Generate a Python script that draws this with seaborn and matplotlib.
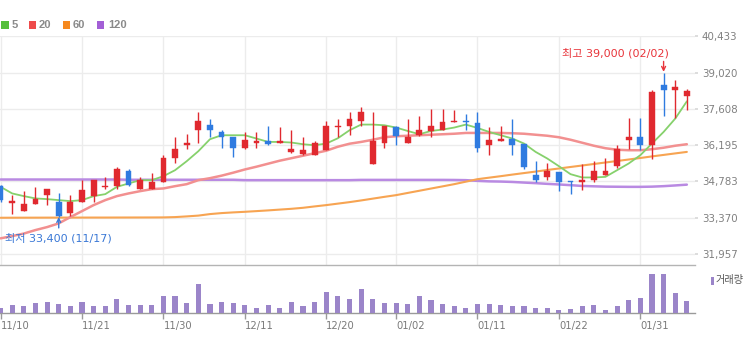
import numpy as np
import pandas as pd
import matplotlib
matplotlib.use("Agg")
import matplotlib.pyplot as plt
import seaborn as sns
from matplotlib.patches import Rectangle

# ---------------- data ----------------
opens = [34600, 33950, 33650, 33900, 34250, 34000, 33550, 34000, 34200, 34550,
         34600, 35200, 34500, 34500, 34750, 35700, 36200, 36800, 37000, 36700,
         36500, 36100, 36300, 36350, 36300, 35950, 35850, 35800, 36000, 36900,
         36950, 37150, 35450, 36300, 36900, 36300, 36600, 36750, 36800, 37100,
         37150, 37050, 36200, 36350, 36450, 36250, 35050, 34950, 35150, 34800,
         34750, 34850, 35050, 35400, 36400, 36500, 36200, 38550, 38350, 38100]
highs = [34650, 34250, 34400, 34550, 34500, 34350, 34250, 34850, 34850, 34950,
         35350, 35250, 34950, 35100, 35800, 36500, 36650, 37500, 37200, 36800,
         36500, 36700, 36700, 36950, 36900, 36800, 36500, 36350, 37150, 37200,
         37500, 37700, 37500, 36950, 36950, 37200, 37350, 37600, 37600, 37550,
         37400, 37500, 36900, 36950, 37200, 36250, 35600, 35500, 35150, 34800,
         35450, 35600, 35700, 36200, 37250, 37250, 38350, 39000, 38750, 38400]
lows = [34000, 33500, 33650, 33900, 33850, 33400, 33450, 34000, 34000, 34500,
        34500, 34600, 34500, 34500, 34750, 35500, 36050, 36300, 36500, 36100,
        35750, 36050, 36100, 36200, 36300, 35900, 35800, 35800, 36000, 36500,
        36600, 36950, 35450, 36100, 36200, 36300, 36550, 36500, 36800, 37100,
        36800, 35950, 35800, 36350, 35800, 35250, 34750, 34850, 34400, 34300,
        34450, 34750, 35050, 35300, 36050, 36000, 35650, 37350, 37250, 37550]
closes = [34050, 34000, 33900, 34100, 34500, 33450, 34000, 34450, 34850, 34600,
          35250, 34650, 34850, 34750, 35700, 36050, 36300, 37150, 36800, 36500,
          36100, 36400, 36350, 36250, 36350, 36050, 36000, 36300, 36950, 36950,
          37200, 37500, 36350, 36950, 36550, 36500, 36800, 36950, 37100, 37150,
          37100, 36100, 36400, 36450, 36200, 35350, 34850, 35200, 34750, 34750,
          34850, 35200, 35200, 36050, 36500, 36200, 38250, 38350, 38450, 38300]
volumes = [15900, 23100, 20100, 30000, 33000, 26100, 20100, 33000, 20100, 20100,
           42900, 23100, 23100, 23100, 50100, 50100, 30000, 86100, 26100, 33000,
           30000, 23100, 15900, 23100, 15900, 33000, 20100, 33000, 63000, 50100,
           42900, 72900, 42900, 30000, 30000, 26100, 50100, 39900, 26100, 20100,
           15900, 26100, 26100, 23100, 20100, 20100, 15900, 15900, 9900, 12900,
           20100, 23100, 9900, 20100, 39900, 45900, 117900, 116100, 60000, 36000]
ma5 = [34574, 34317, 34213, 34123, 34096, 34057, 34018, 34057, 34213, 34290,
       34574, 34706, 34835, 34835, 34990, 35223, 35573, 35962, 36429, 36584,
       36584, 36584, 36456, 36324, 36324, 36300, 36234, 36195, 36261, 36468,
       36779, 37000, 37000, 36973, 36884, 36751, 36623, 36751, 36806, 36884,
       37000, 36868, 36713, 36584, 36456, 36261, 35935, 35678, 35379, 35068,
       34940, 34940, 34963, 35223, 35484, 35807, 36261, 36713, 37233, 37906]
ma20 = [32568, 32657, 32755, 32891, 33007, 33151, 33396, 33629, 33863, 34057,
        34213, 34317, 34407, 34485, 34512, 34601, 34679, 34835, 34912, 35010,
        35126, 35251, 35359, 35476, 35593, 35690, 35787, 35884, 35982, 36137,
        36254, 36324, 36409, 36506, 36545, 36565, 36584, 36604, 36623, 36643,
        36674, 36674, 36674, 36674, 36662, 36643, 36604, 36565, 36506, 36409,
        36293, 36176, 36079, 36020, 36001, 36001, 36040, 36098, 36176, 36234]
ma60 = [33370, 33372, 33373, 33374, 33375, 33376, 33377, 33377, 33378, 33378,
        33379, 33380, 33381, 33382, 33384, 33396, 33423, 33454, 33513, 33552,
        33579, 33602, 33629, 33657, 33688, 33719, 33758, 33812, 33863, 33921,
        33979, 34045, 34115, 34185, 34251, 34337, 34422, 34508, 34593, 34679,
        34776, 34873, 34932, 34990, 35052, 35111, 35169, 35231, 35289, 35348,
        35406, 35464, 35523, 35581, 35639, 35698, 35760, 35818, 35877, 35935]
ma120 = [34860, 34860, 34860, 34860, 34860, 34860, 34860, 34860, 34860, 34860,
         34860, 34850, 34850, 34850, 34850, 34850, 34850, 34850, 34850, 34850,
         34850, 34835, 34835, 34835, 34835, 34835, 34835, 34835, 34835, 34835,
         34835, 34845, 34845, 34845, 34845, 34845, 34845, 34845, 34845, 34842,
         34835, 34807, 34788, 34780, 34765, 34741, 34718, 34691, 34667, 34640,
         34609, 34595, 34582, 34578, 34574, 34574, 34582, 34601, 34629, 34660]

tick_pos = [0, 7, 14, 21, 28, 34, 41, 48, 55]
tick_labels = ["11/10", "11/21", "11/30", "12/11", "12/20", "01/02", "01/11", "01/22", "01/31"]
price_ticks = [31957, 33370, 34783, 36195, 37608, 39020, 40433]
ma_names = ["5", "20", "60", "120"]
low_idx, low_val, low_date = 5, 33400, "11/17"
high_idx, high_val, high_date = 57, 39000, "02/02"

# ---------------- styling ----------------
sns.set_theme(style="white")
plt.rcParams['font.family'] = ['DejaVu Sans', 'Noto Sans CJK KR']

UP = '#e0292f'
DOWN = '#2f7be0'
MA_COLORS = ['#86d16c', '#f29090', '#f7a452', '#b98ae2']
MA_LW = [1.3, 1.8, 1.5, 1.8]
LEG_COLORS = ['#55bf3b', '#ee4b4b', '#f6891f', '#a35fd6']
VOL_COLOR = '#9b85c9'
GRID = '#ececec'

W, H = 752, 337
fig = plt.figure(figsize=(W / 100, H / 100), dpi=100)


def fx(px):
    return px / W


def fy(py):
    return 1 - py / H


ax = fig.add_axes([0, fy(265), fx(695), (265 - 36) / H])
axv = fig.add_axes([0, fy(313), fx(695), (313 - 265) / H])

n = len(closes)
idx = np.arange(n)
df = pd.DataFrame({"i": idx, "open": opens, "high": highs, "low": lows,
                   "close": closes, "vol": volumes,
                   "ma5": ma5, "ma20": ma20, "ma60": ma60, "ma120": ma120})

# moving averages
for col, c, lw in zip(["ma120", "ma60", "ma20", "ma5"], MA_COLORS[::-1], MA_LW[::-1]):
    sns.lineplot(data=df, x="i", y=col, ax=ax, color=c, lw=lw, zorder=2,
                 legend=False)

# candles
up = df["close"] >= df["open"]
colors = np.where(up, UP, DOWN)
ax.vlines(df["i"], df["low"], df["high"], colors=colors, lw=1.0, zorder=3)
body_bottom = np.minimum(df["open"], df["close"])
body_h = np.maximum(np.abs(df["close"] - df["open"]), 55)
ax.bar(df["i"], body_h, bottom=body_bottom, width=0.5, color=colors,
       edgecolor=colors, linewidth=0.3, zorder=4)

ax.set_xlim(-0.05, 59.7)
ax.set_ylim(31530, 40450)
ax.set_xticks(tick_pos)
ax.set_xticklabels([])
ax.tick_params(axis='x', length=0)
ax.set_yticks(price_ticks)
ax.set_yticklabels([f"{v:,}" for v in price_ticks])
ax.yaxis.tick_right()
ax.tick_params(axis='y', length=2, color='#d8d8d8', labelsize=7.4,
               labelcolor='#808080', pad=3)
ax.grid(True, color=GRID, lw=1)
ax.set_xlabel("")
ax.set_ylabel("")
for s in ax.spines.values():
    s.set_visible(False)

# annotations
ax.annotate(f"최저 {low_val:,} ({low_date})", xy=(low_idx, low_val),
            xytext=(0, -15), textcoords='offset points', ha='center',
            va='center', color='#3a78d6', fontsize=8,
            arrowprops=dict(arrowstyle='->', color='#3a78d6', lw=1,
                            shrinkA=1, shrinkB=0, mutation_scale=7),
            annotation_clip=False, zorder=6)
ax.annotate(f"최고 {high_val:,} ({high_date})", xy=(high_idx, high_val),
            xytext=(3.5, 14.5), textcoords='offset points', ha='right',
            va='center', color='#e8343a', fontsize=8, annotation_clip=False,
            zorder=6)
ax.annotate("", xy=(high_idx, high_val), xytext=(0, 8.5),
            textcoords='offset points',
            arrowprops=dict(arrowstyle='->', color='#e8343a', lw=1,
                            shrinkA=0, shrinkB=1, mutation_scale=7),
            annotation_clip=False, zorder=6)

# volume
sns.barplot(data=df, x="i", y="vol", ax=axv, native_scale=True, width=0.44,
            color=VOL_COLOR, saturation=1, errorbar=None, zorder=3,
            linewidth=0)
axv.set_xlim(-0.05, 59.7)
axv.set_ylim(0, 144000)
axv.set_yticks([])
axv.set_xticks(tick_pos)
axv.set_xticklabels(tick_labels)
for t in axv.get_xticklabels():
    t.set_horizontalalignment('left')
axv.tick_params(axis='x', length=4, width=1, color='#9a9a9a', labelsize=7.2,
                labelcolor='#7a7a7a', pad=2, bottom=True)
axv.set_xlabel("")
axv.set_ylabel("")
axv.grid(False)
for k, s in axv.spines.items():
    s.set_visible(k in ("top", "bottom"))
axv.spines['top'].set_color('#b4b4b4')
axv.spines['bottom'].set_color('#9a9a9a')
axv.spines['top'].set_linewidth(1)
axv.spines['bottom'].set_linewidth(1)

# legend (top-left)
sq_x = [1.5, 29, 63, 97]
tx_x = [12, 39, 73, 108]
for name, c, sx, tx in zip(ma_names, LEG_COLORS, sq_x, tx_x):
    fig.add_artist(Rectangle((fx(sx), fy(28.7)), 7.3 / W, 7.3 / H,
                             transform=fig.transFigure, color=c, lw=0))
    fig.text(fx(tx), fy(25), name, ha='left', va='center', fontsize=8,
             fontweight='bold', color='#8a8a8a', family='Liberation Sans')

# volume legend
fig.add_artist(Rectangle((fx(711), fy(285)), 3 / W, 8.5 / H,
                         transform=fig.transFigure, color=VOL_COLOR, lw=0))
fig.text(fx(716), fy(280.5), "거래량", ha='left', va='center', fontsize=7.3,
         color='#555555', family=['Noto Sans CJK KR', 'DejaVu Sans'])

fig.savefig("out.png", dpi=100)
